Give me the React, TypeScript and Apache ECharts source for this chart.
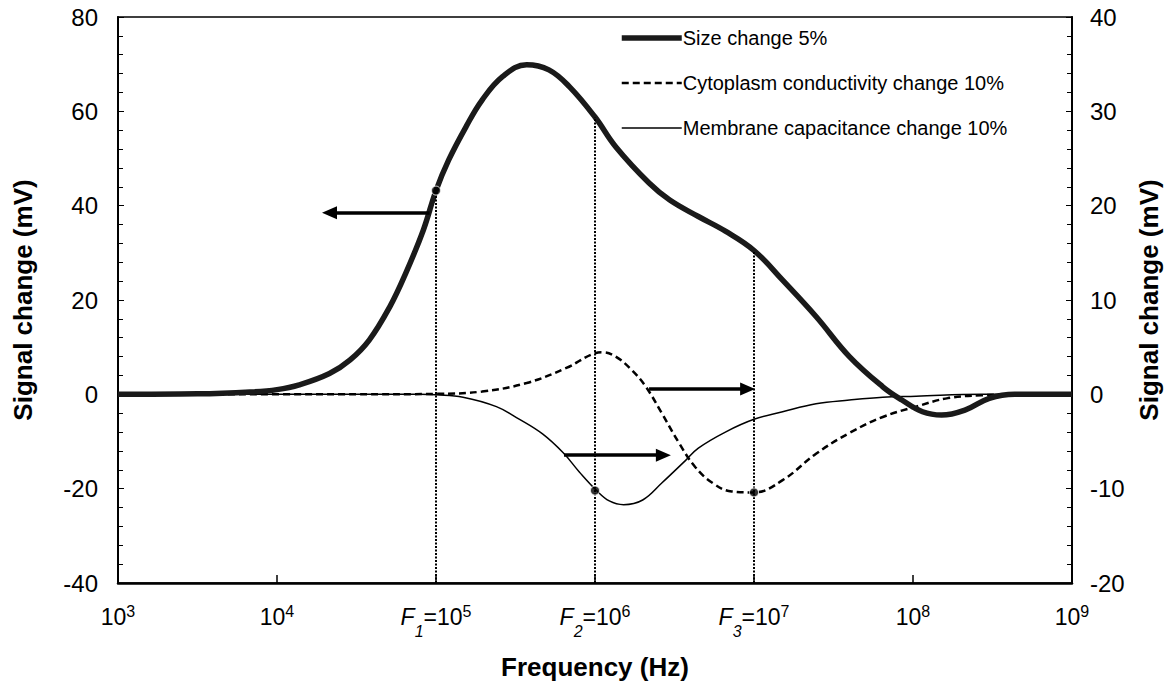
import React, { useEffect, useRef } from "react";
import * as echarts from "echarts";

// x values are log10 of frequency (Hz)
const sizeLogF = [3.0, 3.5, 3.83, 4.0, 4.14, 4.33, 4.46, 4.58, 4.71, 4.81, 4.92, 5.0, 5.08, 5.19, 5.29, 5.42, 5.57, 5.71, 5.84, 6.0, 6.13, 6.34, 6.47, 6.65, 6.82, 7.0, 7.18, 7.39, 7.6, 7.81, 7.93, 8.06, 8.18, 8.33, 8.48, 8.64, 9.0];
const sizeMv = [0, 0.1, 0.5, 1.0, 2.0, 4.4, 7.3, 11.5, 18.6, 25.7, 34.8, 43.2, 49.7, 56.8, 62.4, 67.4, 69.9, 68.8, 65.2, 58.8, 52.5, 44.8, 41.2, 37.7, 34.6, 30.5, 24.2, 16.5, 8.0, 1.6, -1.2, -3.7, -4.4, -3.3, -0.85, 0, 0];

const cytoLogF = [3.0, 4.5, 5.0, 5.29, 5.57, 5.82, 6.0, 6.05, 6.13, 6.23, 6.32, 6.42, 6.53, 6.63, 6.74, 6.86, 7.0, 7.18, 7.39, 7.6, 7.81, 8.02, 8.22, 8.43, 8.64, 9.0];
const cytoMv = [0, 0, 0.05, 0.3, 1.2, 2.8, 4.35, 4.45, 4.0, 2.6, 0.8, -2.0, -5.2, -7.7, -9.4, -10.3, -10.4, -9.1, -6.3, -4.1, -2.4, -1.3, -0.4, -0.1, 0, 0];

const membLogF = [3.0, 4.9, 5.0, 5.17, 5.38, 5.52, 5.67, 5.8, 5.9, 6.01, 6.09, 6.18, 6.3, 6.42, 6.57, 6.65, 6.82, 7.0, 7.18, 7.39, 7.6, 7.81, 8.02, 8.43, 9.0];
const membMv = [0, 0, -0.05, -0.3, -1.3, -2.6, -4.2, -6.2, -8.2, -10.2, -11.3, -11.7, -11.2, -9.4, -7.0, -5.7, -4.0, -2.65, -1.85, -1.0, -0.6, -0.3, -0.2, 0, 0];

const seriesNames = ["Size change 5%", "Cytoplasm conductivity change 10%", "Membrane capacitance change 10%"];

// x tick labels: exponent -> subscript index for F markers
const xExponents = [3, 4, 5, 6, 7, 8, 9];
const fIndex: Record<number, string> = { 5: "1", 6: "2", 7: "3" };

// marker frequencies (log10) and dotted line tops (left axis, mV)
const markerLogF = [5, 6, 7];
const dottedTops = [43.2, 58.8, 30.5];
const leftDots = [[5.0, 43.2]];
const rightDots = [[6.0, -10.2], [7.0, -10.4]];

// arrows in left-axis data units: [fromX, fromY, toX, toY]
const arrows = [
  [4.96, 38.5, 4.33, 38.5],
  [5.805, -12.9, 6.43, -12.9],
  [6.34, 1.12, 6.96, 1.12],
];

const FONT = "'Liberation Sans', Arial, sans-serif";

function zip(xs: number[], ys: number[]) {
  return xs.map((x, i) => [x, ys[i]]);
}

export default function App() {
  const ref = useRef<HTMLDivElement>(null);
  useEffect(() => {
    document.body.style.margin = "0";
    const chart = echarts.init(ref.current!, null, { renderer: "svg" });
    const dottedData = markerLogF.map((x, i) => [{ coord: [x, -40] }, { coord: [x, dottedTops[i]] }]);
    const arrowData = arrows.map((a) => [{ coord: [a[0], a[1]] }, { coord: [a[2], a[3]] }]);
    chart.setOption({
      animation: false,
      textStyle: { fontFamily: FONT, color: "#000" },
      grid: { left: 118, right: 97, top: 17, bottom: 106, show: true, borderColor: "#000", borderWidth: 1.5, backgroundColor: "transparent" },
      legend: {
        data: seriesNames,
        orient: "vertical",
        left: 619,
        top: 28,
        itemWidth: 60,
        itemHeight: 12,
        itemGap: 25,
        padding: 0,
        itemStyle: { opacity: 0 },
        textStyle: { fontSize: 20, fontFamily: FONT, color: "#000", padding: [0, 0, 0, -4] },
        lineStyle: { width: "inherit" },
      },
      xAxis: {
        type: "value",
        min: 3,
        max: 9,
        interval: 1,
        name: "Frequency (Hz)",
        nameLocation: "middle",
        nameGap: 71,
        nameTextStyle: { fontSize: 26, fontWeight: "bold", fontFamily: FONT, color: "#000" },
        axisLine: { show: true, onZero: false, lineStyle: { color: "#000", width: 2.5 } },
        axisTick: { show: true, inside: true, length: 8, lineStyle: { color: "#000", width: 1.5 } },
        splitLine: { show: false },
        axisLabel: {
          margin: 20,
          formatter: (v: number) => {
            const e = Math.round(v);
            if (!xExponents.includes(e)) return "";
            const idx = fIndex[e];
            if (idx) return `{i|F}{sub|${idx}}{n|=10}{sup|${e}}`;
            return `{n|10}{sup|${e}}`;
          },
          rich: {
            n: { fontSize: 23, fontFamily: FONT, color: "#000", lineHeight: 28 },
            i: { fontSize: 23, fontFamily: FONT, color: "#000", fontStyle: "italic", lineHeight: 28 },
            sup: { fontSize: 16, fontFamily: FONT, color: "#000", verticalAlign: "top", lineHeight: 28 },
            sub: { fontSize: 16, fontFamily: FONT, color: "#000", fontStyle: "italic", verticalAlign: "bottom", lineHeight: 28, padding: [0, 0, -8, 0] },
          },
        },
      },
      yAxis: [
        {
          type: "value",
          min: -40,
          max: 80,
          interval: 20,
          name: "Signal change (mV)",
          nameLocation: "middle",
          nameRotate: 90,
          nameGap: 82,
          nameTextStyle: { fontSize: 26, fontWeight: "bold", fontFamily: FONT, color: "#000" },
          axisLine: { show: true, onZero: false, lineStyle: { color: "#000", width: 2 } },
          axisTick: { show: true, inside: true, length: 6, lineStyle: { color: "#000" } },
          minorTick: { show: true, splitNumber: 5, length: 5, lineStyle: { color: "#000" } },
          splitLine: { show: false },
          axisLabel: { fontSize: 24, color: "#000", fontFamily: FONT, margin: 20 },
        },
        {
          type: "value",
          min: -20,
          max: 40,
          interval: 10,
          position: "right",
          name: "Signal change (mV)",
          nameLocation: "middle",
          nameRotate: 90,
          nameGap: 64,
          nameTextStyle: { fontSize: 26, fontWeight: "bold", fontFamily: FONT, color: "#000" },
          axisLine: { show: true, onZero: false, lineStyle: { color: "#000", width: 2 } },
          axisTick: { show: true, inside: true, length: 6, lineStyle: { color: "#000" } },
          minorTick: { show: true, splitNumber: 5, length: 5, lineStyle: { color: "#000" } },
          splitLine: { show: false },
          axisLabel: { fontSize: 24, color: "#000", fontFamily: FONT, margin: 18 },
        },
      ],
      series: [
        {
          name: seriesNames[1],
          type: "line",
          yAxisIndex: 1,
          data: zip(cytoLogF, cytoMv),
          smooth: 0.4,
          symbol: "none",
          lineStyle: { color: "#000", width: 2.5, type: [7, 4] },
          itemStyle: { color: "#000" },
        },
        {
          name: seriesNames[2],
          type: "line",
          yAxisIndex: 1,
          data: zip(membLogF, membMv),
          smooth: 0.4,
          symbol: "none",
          lineStyle: { color: "#000", width: 1.5 },
          itemStyle: { color: "#000" },
        },
        {
          name: seriesNames[0],
          type: "line",
          yAxisIndex: 0,
          data: zip(sizeLogF, sizeMv),
          smooth: 0.4,
          symbol: "none",
          lineStyle: { color: "#1a1a1a", width: 5.5 },
          itemStyle: { color: "#1a1a1a" },
          markLine: {
            silent: true,
            animation: false,
            symbol: ["none", "none"],
            label: { show: false },
            emphasis: { disabled: true },
            lineStyle: { type: [2, 1.5], width: 2, color: "#000" },
            data: dottedData,
          },
        },
        {
          type: "line",
          yAxisIndex: 0,
          data: [],
          symbol: "none",
          lineStyle: { width: 0 },
          markLine: {
            silent: true,
            animation: false,
            symbol: ["none", "triangle"],
            symbolSize: [13, 15],
            label: { show: false },
            emphasis: { disabled: true },
            lineStyle: { type: "solid", width: 3.5, color: "#000" },
            itemStyle: { color: "#000" },
            data: arrowData,
          },
        },
        {
          type: "scatter",
          yAxisIndex: 0,
          data: leftDots,
          symbolSize: 9,
          itemStyle: { color: "#000", borderColor: "#fff", borderWidth: 1 },
          z: 5,
        },
        {
          type: "scatter",
          yAxisIndex: 1,
          data: rightDots,
          symbolSize: 9,
          itemStyle: { color: "#000", borderColor: "#fff", borderWidth: 1 },
          z: 5,
        },
      ],
    });
    return () => chart.dispose();
  }, []);
  return <div ref={ref} style={{ width: 1170, height: 689 }} />;
}
